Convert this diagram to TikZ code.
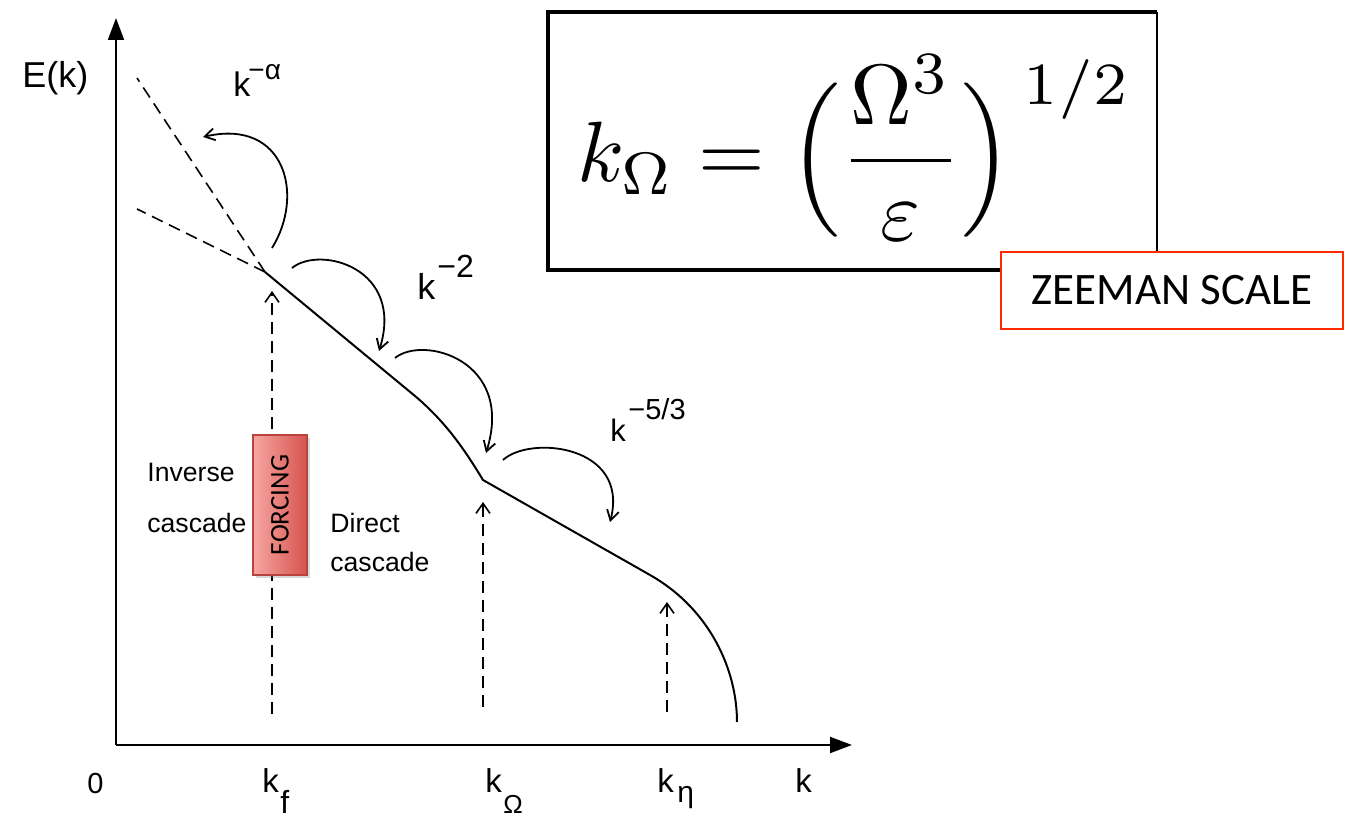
\documentclass[tikz,border=0pt]{standalone}
\usepackage[no-math]{fontspec}
\usepackage{graphicx}
\setmainfont{Liberation Sans}
\newfontfamily\calibri{Carlito}
\usetikzlibrary{arrows.meta,shadows}
\definecolor{zred}{HTML}{FF2A00}
\definecolor{fleft}{HTML}{F7A6A2}
\definecolor{fright}{HTML}{D6534E}
\definecolor{fborder}{HTML}{B9443F}
\begin{document}
\begin{tikzpicture}[x=0.5pt,y=-0.5pt,
  axisline/.style={line width=1pt,-{Triangle[length=11pt,width=8pt]}},
  spectrum/.style={line width=1pt},
  guide/.style={line width=0.8pt,dash pattern=on 6pt off 3.5pt},
  uparrow/.style={guide,-{Straight Barb[length=5pt,width=7pt]}},
  flow/.style={line width=0.9pt,-{Straight Barb[length=5pt,width=6pt]}},
  lab/.style={inner sep=0pt,anchor=base west}]
\useasboundingbox (0,0) rectangle (1346,818);
\fill[white] (0,0) rectangle (1346,818);

% key points
\coordinate (O) at (116,745);
\coordinate (ytip) at (116,18);
\coordinate (xtip) at (852,745);
\coordinate (kf) at (265,272);
\coordinate (kmid) at (415,396);
\coordinate (kO) at (483,480);
\coordinate (kbend) at (650,575);
\coordinate (kend) at (737,722);
\coordinate (da) at (137,78);
\coordinate (db) at (137,209);

% axes
\draw[axisline] (O) -- (ytip);
\draw[axisline] (O) -- (xtip);

% dashed extensions
\draw[guide] (kf) -- (da);
\draw[guide] (kf) -- (db);

% spectrum
\draw[spectrum] (kf) -- (kmid) .. controls (447,423) and (466,452) .. (kO) -- (kbend)
  .. controls (710,609) and (737,670) .. (kend);

% dashed upward arrows
\coordinate (fb) at (272,714);
\coordinate (ft) at (272,291);
\coordinate (ob) at (483,707);
\coordinate (ot) at (483,502);
\coordinate (eb) at (667,712);
\coordinate (et) at (667,602);
\draw[uparrow] (fb) -- (ft);
\draw[uparrow] (ob) -- (ot);
\draw[uparrow] (eb) -- (et);

% cascade arrows
\coordinate (a1s) at (272,248);
\coordinate (a1e) at (203,137);
\coordinate (a2s) at (292,268);
\coordinate (a2e) at (379,351);
\coordinate (a3s) at (395,358);
\coordinate (a3e) at (486,453);
\coordinate (a4s) at (503,460);
\coordinate (a4e) at (610,522);
\draw[flow] (a1s) .. controls (305,195) and (285,118) .. (a1e);
\draw[flow] (a2s) .. controls (320,245) and (405,268) .. (a2e);
\draw[flow] (a3s) .. controls (423,335) and (515,360) .. (a3e);
\draw[flow] (a4s) .. controls (530,435) and (630,445) .. (a4e);

% forcing box
\node[draw=fborder,line width=0.8pt,left color=fleft,right color=fright,
  minimum width=27pt,minimum height=70pt,inner sep=0pt,
  drop shadow={shadow xshift=1.5pt,shadow yshift=-1.5pt,opacity=0.3},
  font=\calibri\fontsize{13.5}{14}\selectfont] (forcing) at (280,505) {\rotatebox{90}{FORCING}};

% labels
\node[lab,font=\fontsize{18}{20}\selectfont] (Ek) at (22,88) {E(k)};
\node[lab,font=\fontsize{17}{18}\selectfont] (ka) at (233,97) {k};
\node[lab,font=\fontsize{14}{15}\selectfont] (kasup) at (248,80) {−α};
\node[lab,font=\fontsize{18}{19}\selectfont] (k2) at (417,300) {k};
\node[lab,font=\fontsize{16}{17}\selectfont] (k2sup) at (437,278) {−2};
\node[lab,font=\fontsize{15.5}{16}\selectfont] (k53) at (610,442) {k};
\node[lab,font=\fontsize{14.5}{15}\selectfont] (k53sup) at (628,420) {−5/3};

\node[lab,font=\fontsize{13.3}{14}\selectfont] (inv1) at (147,482) {Inverse};
\node[lab,font=\fontsize{13.3}{14}\selectfont] (inv2) at (147,532) {cascade};
\node[lab,font=\fontsize{13.3}{14}\selectfont] (dir1) at (330,532) {Direct};
\node[lab,font=\fontsize{13.3}{14}\selectfont] (dir2) at (330,572) {cascade};

\node[lab,font=\fontsize{14.5}{15}\selectfont] (zero) at (87,793) {0};
\node[lab,font=\fontsize{16.5}{17}\selectfont] (kfl) at (262,792) {k};
\node[lab,font=\fontsize{16}{17}\selectfont] (kfs) at (280,813) {f};
\node[lab,font=\fontsize{16.5}{17}\selectfont] (kOl) at (485,792) {k};
\node[lab,font=\fontsize{13}{14}\selectfont] (kOs) at (503,813) {Ω};
\node[lab,font=\fontsize{16.5}{17}\selectfont] (kel) at (657,792) {k};
\node[lab,font=\fontsize{15}{16}\selectfont] (kes) at (677,802) {η};
\node[lab,font=\fontsize{16.5}{17}\selectfont] (kl) at (795,792) {k};

% formula box
\coordinate (b1) at (548,12);
\coordinate (b2) at (1157,12);
\coordinate (b3) at (1157,270);
\coordinate (b4) at (548,270);
\draw[line width=1.6pt] (b2) -- (b1) -- (b4) -- (b3);
\draw[line width=0.6pt] (b2) -- (b3);
\node[inner sep=0pt,anchor=base west] (formula) at (577,182)
  {\scalebox{4.28}{$\displaystyle k_\Omega = \Big(\frac{\Omega^3}{\varepsilon}\Big)^{\,1/2}$}};

% zeeman label
\node[draw=zred,line width=1.2pt,fill=white,minimum width=171pt,minimum height=38.5pt,
  inner sep=0pt,font=\calibri\fontsize{22.5}{24}\selectfont] (zeeman) at (1172,290.5) {ZEEMAN SCALE};
\end{tikzpicture}
\end{document}
